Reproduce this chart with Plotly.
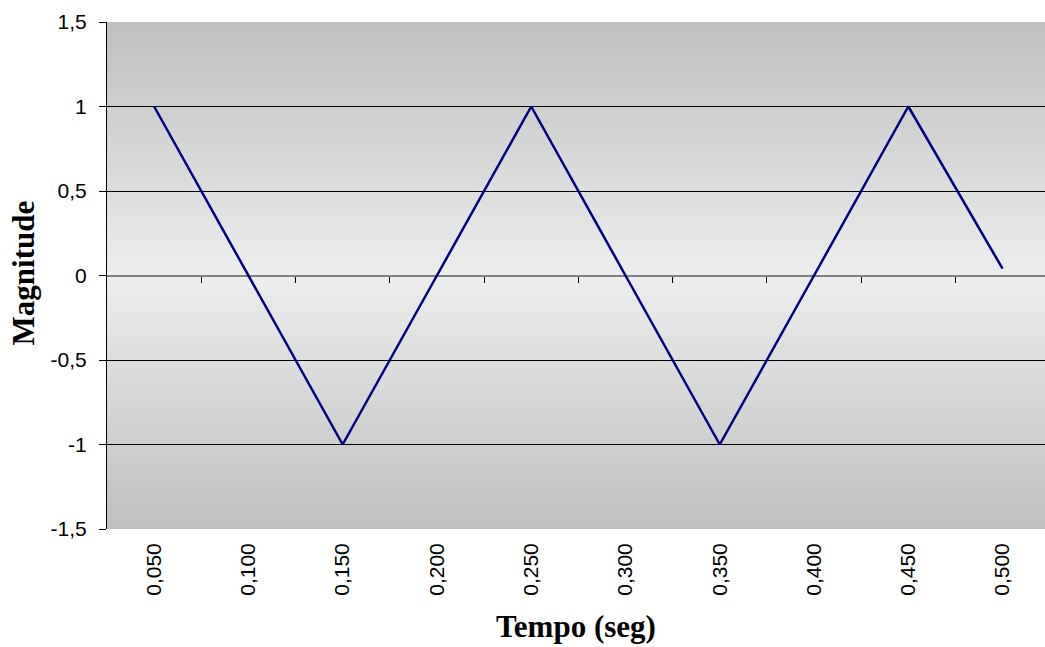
import plotly.graph_objects as go

# Sample times (category labels) and signal magnitude
TIME_LABELS = ["0,050", "0,100", "0,150", "0,200", "0,250",
               "0,300", "0,350", "0,400", "0,450", "0,500"]
MAGNITUDE = [1, 0, -1, 0, 1, 0, -1, 0, 1, 0.04]

Y_TICKS = [-1.5, -1, -0.5, 0, 0.5, 1, 1.5]
Y_TICK_TEXT = ["-1,5", "-1", "-0,5", "0", "0,5", "1", "1,5"]
GRID_VALUES = [-1, -0.5, 0.5, 1]

Y_MIN, Y_MAX = -1.5, 1.5
x_idx = list(range(len(TIME_LABELS)))
x_range = [-0.5, len(TIME_LABELS) - 0.55]

fig = go.Figure()

# Signal line
fig.add_trace(go.Scatter(
    x=x_idx, y=MAGNITUDE, mode="lines",
    line=dict(color="#000080", width=2.5),
    showlegend=False, hoverinfo="x+y",
))
# Carrier for the overlay axes (zero-line ticks and interior grid lines)
fig.add_trace(go.Scatter(x=[], y=[], xaxis="x2", yaxis="y2", showlegend=False))

shapes = []
# Vertical gradient: grey at top and bottom, light in the middle.
# Nested rectangles centred on zero, drawn outermost first, so no seams.
n_steps = 90
for k in range(n_steps, 0, -1):
    h = Y_MAX * k / n_steps
    t = (k - 0.5) / n_steps
    g = int(round(237 - (237 - 191) * t))
    col = f"rgb({g},{g},{g})"
    shapes.append(dict(type="rect", xref="paper", yref="y",
                       x0=0, x1=1, y0=-h, y1=h,
                       fillcolor=col, line=dict(width=0),
                       layer="below"))

tick_font = dict(family="Liberation Sans, Arial, sans-serif", size=21, color="black")
title_font = dict(family="Liberation Serif, Times New Roman, serif", size=31, color="black")

fig.update_layout(
    width=1045, height=647,
    margin=dict(l=107, r=0, t=22, b=118),
    paper_bgcolor="white",
    plot_bgcolor="rgb(191,191,191)",
    shapes=shapes,
    xaxis=dict(
        range=x_range, tickmode="array", tickvals=x_idx, ticktext=TIME_LABELS,
        tickangle=-90, tickfont=tick_font, ticks="", showgrid=False,
        zeroline=False, showline=False, ticklabelstandoff=9,
    ),
    xaxis2=dict(
        overlaying="x", anchor="free", position=0.5, side="bottom",
        range=x_range, tickmode="array",
        tickvals=[i + 0.5 for i in x_idx[:-1]],
        ticks="outside", ticklen=6, tickwidth=1, tickcolor="black",
        showticklabels=False, showgrid=False, zeroline=False, showline=False,
    ),
    yaxis=dict(
        range=[Y_MIN, Y_MAX], tickmode="array", tickvals=Y_TICKS,
        ticktext=Y_TICK_TEXT, tickfont=tick_font,
        ticks="outside", ticklen=7, tickcolor="black", tickwidth=1,
        showline=True, linecolor="black", linewidth=1,
        showgrid=False, zeroline=True, zerolinecolor="#808080",
        zerolinewidth=2, ticklabelstandoff=8,
    ),
    yaxis2=dict(
        overlaying="y", anchor="x", side="left",
        range=[Y_MIN, Y_MAX], tickmode="array", tickvals=GRID_VALUES,
        showticklabels=False, ticks="", showgrid=True,
        gridcolor="black", gridwidth=1, zeroline=False, showline=False,
    ),
    annotations=[
        dict(text="<b>Magnitude</b>", xref="paper", yref="paper",
             x=0, y=0.504, xanchor="center", yanchor="middle",
             xshift=-84, textangle=-90, showarrow=False, font=title_font),
        dict(text="<b>Tempo (seg)</b>", xref="paper", yref="paper",
             x=0.5, y=0, xanchor="center", yanchor="middle",
             yshift=-97, showarrow=False, font=title_font),
    ],
)

fig.write_html("out.html")
